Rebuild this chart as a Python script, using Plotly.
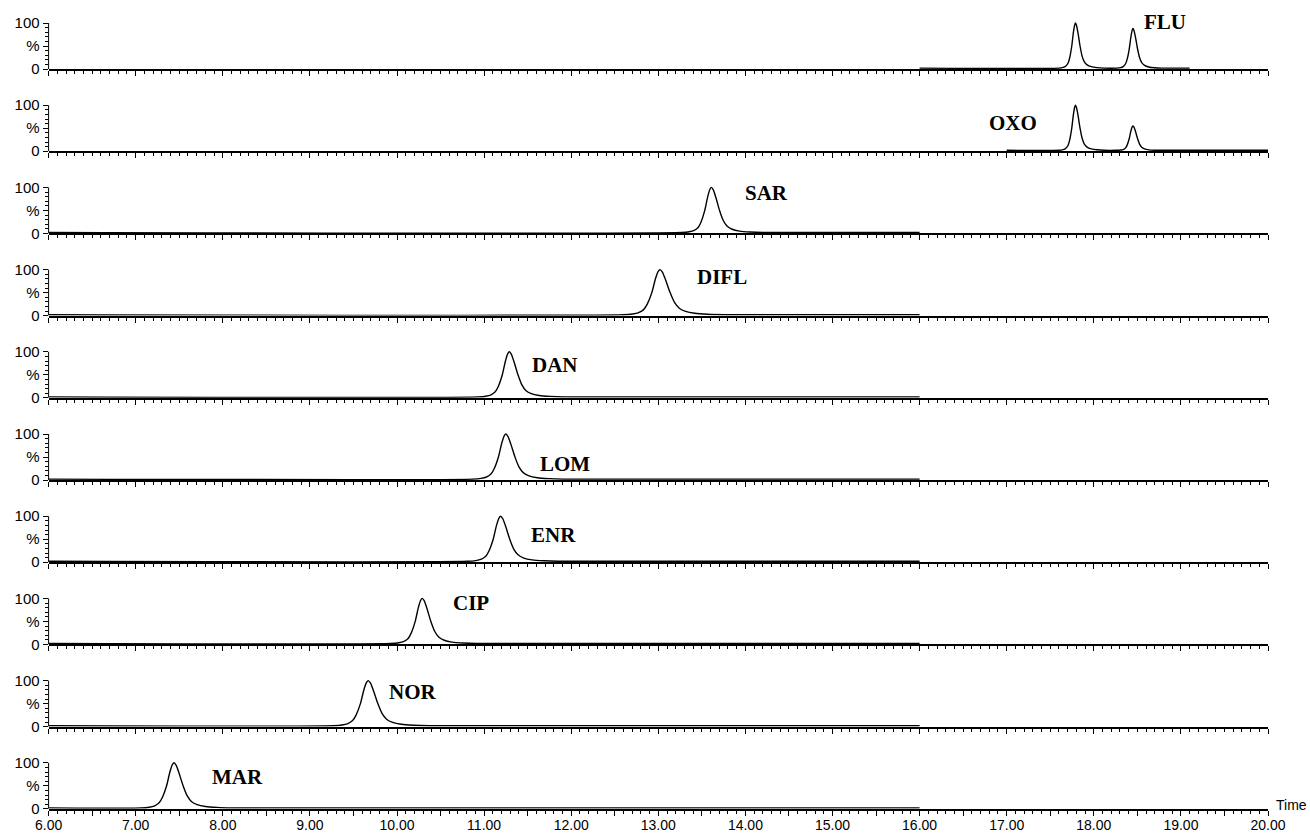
import plotly.graph_objects as go

# ---------------- data ----------------
COMPOUNDS = ["FLU", "OXO", "SAR", "DIFL", "DAN", "LOM", "ENR", "CIP", "NOR", "MAR"]

FLU_T = [16.0, 17.60, 17.648, 17.676, 17.705, 17.724, 17.747, 17.766, 17.781, 17.79, 17.801, 17.819, 17.842, 17.866, 17.89, 17.923, 17.971, 18.037, 18.12,
         18.26, 18.308, 18.336, 18.365, 18.384, 18.407, 18.426, 18.441, 18.45, 18.461, 18.479, 18.502, 18.526, 18.55, 18.583, 18.631, 18.697, 18.78, 19.1]
FLU_I = [2, 2, 3.5, 6, 13, 25, 50, 80, 96, 100, 95, 78, 50, 28, 16, 9, 5, 3, 2,
         2, 3, 5.3, 11.4, 22, 44, 70, 84.5, 88, 83.6, 68.6, 44, 24.6, 14, 8, 4.4, 2.6, 2, 2]

OXO_T = [17.0, 17.60, 17.648, 17.676, 17.705, 17.724, 17.747, 17.766, 17.781, 17.79, 17.801, 17.819, 17.842, 17.866, 17.89, 17.923, 17.971, 18.037, 18.12,
         18.26, 18.308, 18.336, 18.365, 18.384, 18.407, 18.426, 18.441, 18.45, 18.461, 18.479, 18.502, 18.526, 18.55, 18.583, 18.631, 18.697, 18.78, 20.0]
OXO_I = [2, 2, 3.5, 6, 13, 25, 50, 80, 96, 100, 95, 78, 50, 28, 16, 9, 5, 3, 2,
         2, 2.5, 3.3, 7.2, 13.8, 27.5, 44, 52.8, 55, 52.3, 42.9, 27.5, 15.4, 8.8, 5, 2.8, 2, 2, 2]

SAR_T = [6.0, 13.27, 13.355, 13.406, 13.457, 13.491, 13.5335, 13.5675, 13.593, 13.61, 13.63, 13.661, 13.7035, 13.746, 13.7885, 13.848, 13.933, 14.052, 14.205, 16.0]
DIFL_T = [6.0, 12.60, 12.705, 12.768, 12.831, 12.873, 12.9255, 12.9675, 12.999, 13.02, 13.045, 13.083, 13.1355, 13.188, 13.2405, 13.314, 13.419, 13.566, 13.755, 16.0]
DAN_T = [6.0, 10.93, 11.02, 11.074, 11.128, 11.164, 11.209, 11.245, 11.272, 11.29, 11.312, 11.344, 11.389, 11.434, 11.479, 11.542, 11.632, 11.758, 11.92, 16.0]
LOM_T = [6.0, 10.87, 10.965, 11.022, 11.079, 11.117, 11.1645, 11.2025, 11.231, 11.25, 11.273, 11.307, 11.3545, 11.402, 11.4495, 11.516, 11.611, 11.744, 11.915, 16.0]
ENR_T = [6.0, 10.81, 10.905, 10.962, 11.019, 11.057, 11.1045, 11.1425, 11.171, 11.19, 11.213, 11.247, 11.2945, 11.342, 11.3895, 11.456, 11.551, 11.684, 11.855, 16.0]
CIP_T = [6.0, 9.93, 10.02, 10.074, 10.128, 10.164, 10.209, 10.245, 10.272, 10.29, 10.312, 10.344, 10.389, 10.434, 10.479, 10.542, 10.632, 10.758, 10.92, 16.0]
NOR_T = [6.0, 9.27, 9.37, 9.43, 9.49, 9.53, 9.58, 9.62, 9.65, 9.67, 9.694, 9.73, 9.78, 9.83, 9.88, 9.95, 10.05, 10.19, 10.37, 16.0]
MAR_T = [6.0, 7.06, 7.155, 7.212, 7.269, 7.307, 7.3545, 7.3925, 7.421, 7.44, 7.463, 7.497, 7.5445, 7.592, 7.6395, 7.706, 7.801, 7.934, 8.105, 16.0]

SAR_I = [2, 2, 3.5, 6, 13, 25, 50, 80, 96, 100, 95, 78, 50, 28, 16, 9, 5, 3, 2, 2]
DIFL_I = [2, 2, 3.5, 6, 13, 25, 50, 80, 96, 100, 95, 78, 50, 28, 16, 9, 5, 3, 2, 2]
DAN_I = [2, 2, 3.5, 6, 13, 25, 50, 80, 96, 100, 95, 78, 50, 28, 16, 9, 5, 3, 2, 2]
LOM_I = [2, 2, 3.5, 6, 13, 25, 50, 80, 96, 100, 95, 78, 50, 28, 16, 9, 5, 3, 2, 2]
ENR_I = [2, 2, 3.5, 6, 13, 25, 50, 80, 96, 100, 95, 78, 50, 28, 16, 9, 5, 3, 2, 2]
CIP_I = [2, 2, 3.5, 6, 13, 25, 50, 80, 96, 100, 95, 78, 50, 28, 16, 9, 5, 3, 2, 2]
NOR_I = [2, 2, 3.5, 6, 13, 25, 50, 80, 96, 100, 95, 78, 50, 28, 16, 9, 5, 3, 2, 2]
MAR_I = [2, 2, 3.5, 6, 13, 25, 50, 80, 96, 100, 95, 78, 50, 28, 16, 9, 5, 3, 2, 2]

TIMES = [FLU_T, OXO_T, SAR_T, DIFL_T, DAN_T, LOM_T, ENR_T, CIP_T, NOR_T, MAR_T]
INTENS = [FLU_I, OXO_I, SAR_I, DIFL_I, DAN_I, LOM_I, ENR_I, CIP_I, NOR_I, MAR_I]

# label positions (time, %)
LABEL_T = [18.82, 17.07, 14.24, 13.73, 11.81, 11.93, 11.80, 10.85, 10.18, 8.17]
LABEL_P = [102, 61, 88, 84, 71, 35, 60, 91, 76, 70]

X_TICKVALS = [6.0 + 0.5 * k for k in range(29)]
X_TICKTEXT = [("%.2f" % v) if k % 2 == 0 else "" for k, v in enumerate(X_TICKVALS)]
Y_TICKVALS = [0, 50, 100]
Y_TICKTEXT = ["0", "%", "100"]

# ---------------- layout geometry ----------------
W, H = 1310, 833
X_LEFT, X_RIGHT = 48.6, 1268.0
BASE0, STEP = 69.0, 82.2
PX100 = 46.0
YMAX = 104.0

fig = go.Figure()
layout = dict(
    width=W, height=H,
    margin=dict(l=0, r=0, t=0, b=0),
    paper_bgcolor="white", plot_bgcolor="white",
    showlegend=False,
    font=dict(family="Liberation Sans, Arial, sans-serif", color="black"),
)
shapes = []
annotations = []
n = len(COMPOUNDS)
for i in range(n):
    k = "" if i == 0 else str(i + 1)
    base = BASE0 + STEP * i
    top = base - PX100 * YMAX / 100.0
    ydom = [1 - base / H, 1 - top / H]
    xdom = [X_LEFT / W, X_RIGHT / W]
    last = i == n - 1
    fig.add_trace(go.Scatter(
        x=TIMES[i], y=INTENS[i], mode="lines",
        line=dict(color="black", width=1.4, shape="spline", smoothing=0.8),
        xaxis="x" + k, yaxis="y" + k, hoverinfo="skip"))
    layout["xaxis" + k] = dict(
        domain=xdom, anchor="y" + k, range=[6, 20],
        showgrid=False, zeroline=False,
        showline=True, linecolor="black", linewidth=2,
        ticks="outside", ticklen=5, tickwidth=1, tickcolor="black",
        tickmode="array", tickvals=X_TICKVALS, ticktext=X_TICKTEXT,
        showticklabels=last, tickfont=dict(size=14), ticklabelstandoff=-3,
        minor=dict(tickmode="linear", tick0=6, dtick=0.1, ticks="outside",
                   ticklen=3, tickwidth=1, tickcolor="black"),
        automargin=False, fixedrange=True,
    )
    layout["yaxis" + k] = dict(
        domain=ydom, anchor="x" + k, range=[0, YMAX],
        showgrid=False, zeroline=False, showline=False,
        ticks="outside", ticklen=5, tickwidth=1, tickcolor="black",
        tickmode="array", tickvals=Y_TICKVALS, ticktext=Y_TICKTEXT,
        tickfont=dict(size=15),
        minor=dict(tickmode="linear", tick0=0, dtick=10, ticks="outside",
                   ticklen=3, tickwidth=1, tickcolor="black"),
        automargin=False, fixedrange=True,
    )
    shapes.append(dict(type="line", xref="paper", yref="y" + k,
                       x0=X_LEFT / W, x1=X_LEFT / W, y0=0, y1=100,
                       line=dict(color="black", width=1)))
    annotations.append(dict(
        text="<b>%s</b>" % COMPOUNDS[i], x=LABEL_T[i], y=LABEL_P[i],
        xref="x" + k, yref="y" + k, showarrow=False,
        xanchor="center", yanchor="middle",
        font=dict(family="Liberation Serif, Times New Roman, serif", size=21, color="black")))

annotations.append(dict(text="Time", xref="paper", yref="paper",
                        x=1274 / W, y=1 - 805 / H, xanchor="left", yanchor="middle",
                        showarrow=False, font=dict(size=14, color="black")))
layout["shapes"] = shapes
layout["annotations"] = annotations
fig.update_layout(**layout)
fig.write_html(
    "out.html",
    config={"displayModeBar": False},
    post_script="document.body.style.margin='0';document.body.style.overflow='hidden';",
)
